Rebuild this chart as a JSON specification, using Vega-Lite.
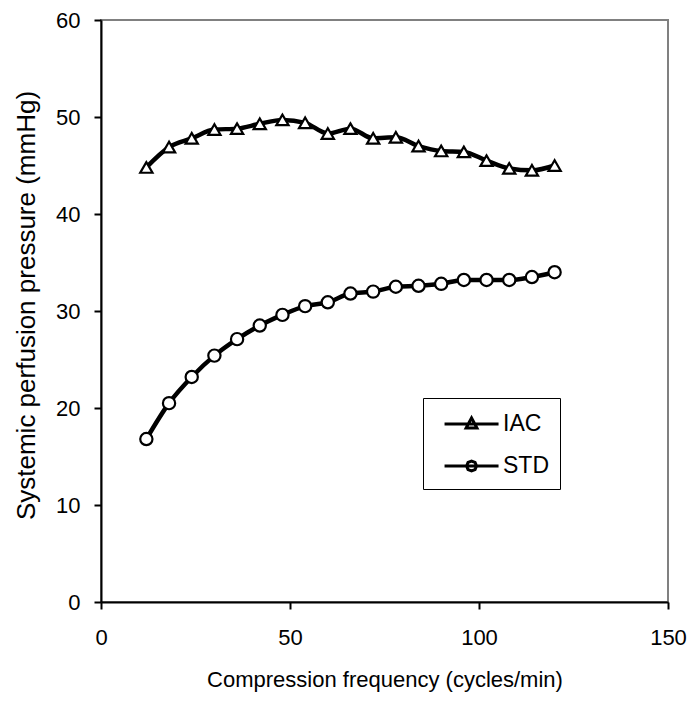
{
  "$schema": "https://vega.github.io/schema/vega-lite/v6.json",
  "autosize": "none",
  "width": 567,
  "height": 582,
  "padding": {"left": 101, "top": 20, "right": 25, "bottom": 100},
  "background": "white",
  "config": {
    "font": "Liberation Sans",
    "view": {"stroke": "#808080", "strokeWidth": 2},
    "axis": {
      "grid": false,
      "domainColor": "black",
      "domainWidth": 2,
      "tickColor": "black",
      "tickWidth": 2,
      "tickSize": 7,
      "labelFont": "Liberation Sans",
      "labelFontSize": 22,
      "labelColor": "black",
      "labelFlush": false,
      "labelOverlap": false,
      "titleFont": "Liberation Sans",
      "titleFontWeight": "normal",
      "titleColor": "black"
    }
  },
  "data": {
    "values": [
      {"freq": 12, "series": "IAC", "value": 44.8},
      {"freq": 18, "series": "IAC", "value": 46.9},
      {"freq": 24, "series": "IAC", "value": 47.8},
      {"freq": 30, "series": "IAC", "value": 48.7},
      {"freq": 36, "series": "IAC", "value": 48.8},
      {"freq": 42, "series": "IAC", "value": 49.3},
      {"freq": 48, "series": "IAC", "value": 49.7},
      {"freq": 54, "series": "IAC", "value": 49.4},
      {"freq": 60, "series": "IAC", "value": 48.3},
      {"freq": 66, "series": "IAC", "value": 48.8},
      {"freq": 72, "series": "IAC", "value": 47.8},
      {"freq": 78, "series": "IAC", "value": 47.9},
      {"freq": 84, "series": "IAC", "value": 47.0},
      {"freq": 90, "series": "IAC", "value": 46.5},
      {"freq": 96, "series": "IAC", "value": 46.4},
      {"freq": 102, "series": "IAC", "value": 45.5},
      {"freq": 108, "series": "IAC", "value": 44.7},
      {"freq": 114, "series": "IAC", "value": 44.5},
      {"freq": 120, "series": "IAC", "value": 45.0},
      {"freq": 12, "series": "STD", "value": 16.8},
      {"freq": 18, "series": "STD", "value": 20.5},
      {"freq": 24, "series": "STD", "value": 23.2},
      {"freq": 30, "series": "STD", "value": 25.4},
      {"freq": 36, "series": "STD", "value": 27.1},
      {"freq": 42, "series": "STD", "value": 28.5},
      {"freq": 48, "series": "STD", "value": 29.6},
      {"freq": 54, "series": "STD", "value": 30.5},
      {"freq": 60, "series": "STD", "value": 30.9},
      {"freq": 66, "series": "STD", "value": 31.8},
      {"freq": 72, "series": "STD", "value": 32.0},
      {"freq": 78, "series": "STD", "value": 32.5},
      {"freq": 84, "series": "STD", "value": 32.6},
      {"freq": 90, "series": "STD", "value": 32.8},
      {"freq": 96, "series": "STD", "value": 33.2},
      {"freq": 102, "series": "STD", "value": 33.2},
      {"freq": 108, "series": "STD", "value": 33.2},
      {"freq": 114, "series": "STD", "value": 33.5},
      {"freq": 120, "series": "STD", "value": 34.0}
    ]
  },
  "encoding": {
    "x": {
      "field": "freq",
      "type": "quantitative",
      "scale": {"domain": [0, 150], "nice": false},
      "axis": {
        "values": [0, 50, 100, 150],
        "title": "Compression frequency (cycles/min)",
        "titleFontSize": 22,
        "labelPadding": 18,
        "titlePadding": 21
      }
    },
    "y": {
      "field": "value",
      "type": "quantitative",
      "scale": {"domain": [0, 60], "nice": false},
      "axis": {
        "values": [0, 10, 20, 30, 40, 50, 60],
        "title": "Systemic perfusion pressure (mmHg)",
        "titleFontSize": 26,
        "labelPadding": 14,
        "titleAngle": 270,
        "titleX": -67,
        "titleY": 285,
        "titleBaseline": "alphabetic",
        "titleAlign": "center"
      }
    }
  },
  "resolve": {"scale": {"shape": "independent"}, "legend": {"shape": "independent"}},
  "layer": [
    {
      "mark": {"type": "line", "interpolate": "monotone", "color": "black", "strokeWidth": 4.5},
      "encoding": {"detail": {"field": "series"}}
    },
    {
      "mark": {"type": "point", "filled": false, "fill": "white", "fillOpacity": 1, "stroke": "black", "strokeWidth": 2.2, "opacity": 1, "size": 150},
      "encoding": {
        "shape": {
          "field": "series",
          "type": "nominal",
          "scale": {"domain": ["IAC", "STD"], "range": ["triangle-up", "circle"]},
          "legend": null
        }
      }
    },
    {
      "transform": [{"filter": "datum.freq < 0"}],
      "mark": {"type": "point", "filled": false, "color": "black", "strokeWidth": 3, "opacity": 1},
      "encoding": {
        "shape": {
          "field": "series",
          "type": "nominal",
          "scale": {
            "domain": ["IAC", "STD"],
            "range": [
              "M-0.33,0H3.67M1.27,0.3L1.67,-0.45L2.07,0.3Z",
              "M-0.33,0H3.67M1.3,0L1.41,-0.26L1.67,-0.37L1.93,-0.26L2.04,0L1.93,0.26L1.67,0.37L1.41,0.26Z"
            ]
          },
          "legend": {
            "title": null,
            "orient": "none",
            "legendX": 322,
            "legendY": 378,
            "padding": 11,
            "strokeColor": "black",
            "fillColor": "white",
            "symbolSize": 729,
            "symbolOpacity": 1,
            "symbolStrokeColor": "black",
            "symbolFillColor": "white",
            "symbolStrokeWidth": 3,
            "labelFontSize": 23,
            "labelFont": "Liberation Sans",
            "labelColor": "black",
            "labelOffset": 39,
            "rowPadding": 15,
            "encode": {
              "legend": {"update": {"strokeWidth": {"value": 2}}}
            }
          }
        }
      }
    }
  ]
}
